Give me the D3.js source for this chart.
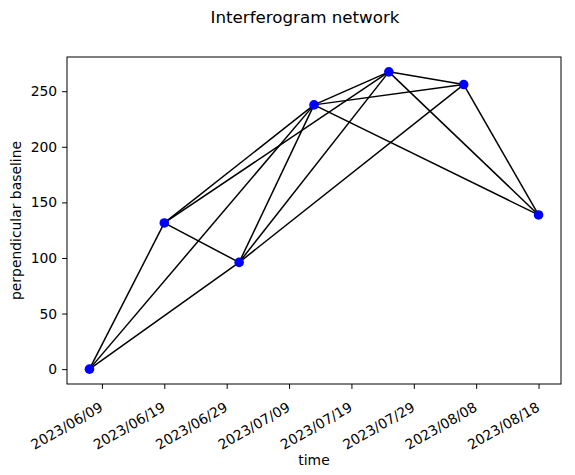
<!DOCTYPE html>
<html><head><meta charset="utf-8">
<script src="https://cdn.jsdelivr.net/npm/d3@7"></script>
<style>body{margin:0;background:#fff}svg{display:block}text{font-family:"DejaVu Sans",sans-serif;fill:#000}</style>
</head><body><div id="c"></div>
<script>
const dates = ["2023-06-07","2023-06-19","2023-07-01","2023-07-13","2023-07-25","2023-08-06","2023-08-18"];
const baselines = [0, 131.5, 96, 237.7, 267.4, 256, 138.7];
const pairs = [[0,1],[0,2],[0,3],[1,2],[1,3],[1,4],[2,3],[2,4],[2,5],[3,4],[3,5],[3,6],[4,5],[4,6],[5,6]];
const xTickLabels = ["2023/06/09","2023/06/19","2023/06/29","2023/07/09","2023/07/19","2023/07/29","2023/08/08","2023/08/18"];
const yTicks = [0,50,100,150,200,250];

const W=575,H=475, L=67, R=561, T=57, B=384;
const parse = d3.utcParse("%Y-%m-%d");
const pd = dates.map(parse);
const tParse = d3.utcParse("%Y/%m/%d");
const tDates = xTickLabels.map(tParse);
const xmin = +pd[0], xmax = +pd[pd.length-1], xs = (xmax-xmin)*0.05;
const x = d3.scaleUtc().domain([new Date(xmin-xs), new Date(xmax+xs)]).range([L,R]);
const ymn = d3.min(baselines), ymx = d3.max(baselines), ys=(ymx-ymn)*0.05;
const y = d3.scaleLinear().domain([ymn-ys, ymx+ys]).range([B,T]);

const FS = "13.9px";
const svg = d3.select("#c").append("svg").attr("width",W).attr("height",H);
svg.append("rect").attr("width",W).attr("height",H).attr("fill","#fff");

const g = svg.append("g");
g.selectAll("line.e").data(pairs).join("line").attr("class","e")
 .attr("x1",d=>x(pd[d[0]])).attr("y1",d=>y(baselines[d[0]]))
 .attr("x2",d=>x(pd[d[1]])).attr("y2",d=>y(baselines[d[1]]))
 .attr("stroke","#000").attr("stroke-width",1.5);
g.selectAll("circle").data(baselines).join("circle")
 .attr("cx",(d,i)=>x(pd[i])).attr("cy",d=>y(d)).attr("r",4.8).attr("fill","#0000ff");

// frame
svg.append("rect").attr("x",L).attr("y",T).attr("width",R-L).attr("height",B-T)
 .attr("fill","none").attr("stroke","#000").attr("stroke-width",1);

// x axis
const xa = svg.append("g").attr("transform",`translate(0,${B})`)
 .call(d3.axisBottom(x).tickValues(tDates).tickSize(4.9).tickFormat(d3.utcFormat("%Y/%m/%d")));
xa.select(".domain").remove();
xa.selectAll("text").attr("font-size",FS)
 .attr("text-anchor","end").attr("dy",null).attr("y",0)
 .attr("transform","translate(1.5,26) rotate(-30)");
// y axis
const ya = svg.append("g").attr("transform",`translate(${L},0)`)
 .call(d3.axisLeft(y).tickValues(yTicks).tickSize(4.9).tickPadding(4.9));
ya.select(".domain").remove();
ya.selectAll("text").attr("font-size",FS);

svg.append("text").attr("x",305).attr("y",23).attr("text-anchor","middle").attr("font-size","16.7px").text("Interferogram network");
svg.append("text").attr("x",314).attr("y",465).attr("text-anchor","middle").attr("font-size",FS).text("time");
svg.append("text").attr("transform",`translate(21,${(T+B)/2}) rotate(-90)`).attr("text-anchor","middle").attr("font-size",FS).text("perpendicular baseline");
</script></body></html>
